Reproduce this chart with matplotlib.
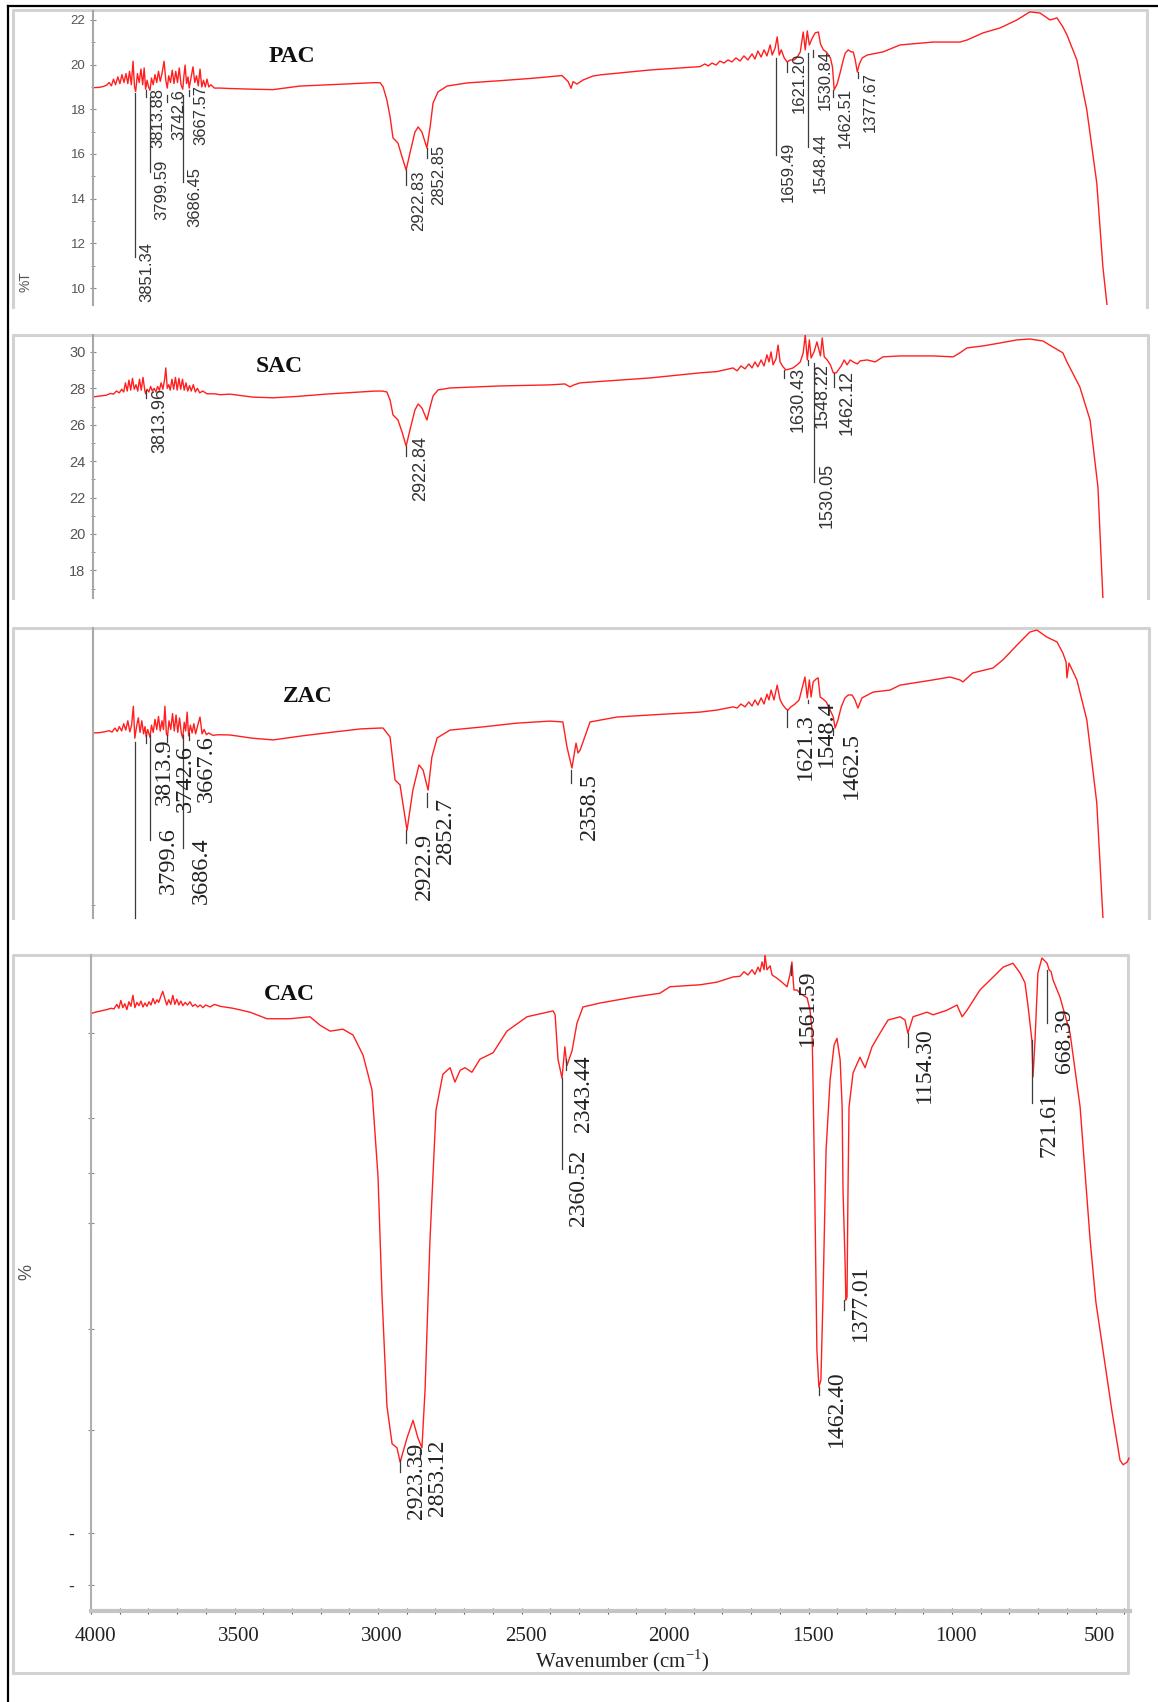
import matplotlib
matplotlib.use('Agg')
import matplotlib.pyplot as plt
import numpy as np
from matplotlib.transforms import ScaledTranslation

W, H = 1158, 1702
SERIF = ['Liberation Serif', 'DejaVu Serif']
SANS = ['Liberation Sans', 'DejaVu Sans']
RED = '#ff1f1f'
plt.rcParams['font.family'] = SANS

# ---------------- PAC spectrum (wavenumber, %T) ----------------
PAC_WN = [3995, 3975, 3960, 3948, 3940, 3932, 3925, 3918, 3910, 3903, 3896, 3889, 3882, 3876, 3870,
          3864, 3858, 3853, 3849, 3843, 3837, 3831, 3825, 3820, 3815, 3810, 3805, 3800, 3795, 3789,
          3783, 3777, 3771, 3765, 3759, 3752, 3746, 3741, 3736, 3730, 3724, 3718, 3712, 3706, 3700,
          3694, 3688, 3684, 3680, 3675, 3670, 3666, 3660, 3653, 3647, 3641, 3635, 3629, 3623, 3617,
          3611, 3605, 3599, 3592, 3580, 3560, 3526, 3450, 3380, 3287, 3150, 3040, 3013, 3003, 2990,
          2979, 2969, 2952, 2938, 2924, 2911, 2894, 2883, 2870, 2853, 2842, 2832, 2815, 2784, 2716,
          2603, 2490, 2391, 2370, 2360, 2353, 2340, 2319, 2285, 2261, 2090, 1919, 1902, 1891, 1878,
          1864, 1851, 1837, 1823, 1810, 1796, 1782, 1769, 1755, 1741, 1731, 1721, 1710, 1700, 1690,
          1679, 1672, 1662, 1655, 1648, 1641, 1631, 1621, 1610, 1597, 1586, 1576, 1566, 1559, 1552,
          1545, 1535, 1525, 1514, 1507, 1497, 1487, 1473, 1466, 1460, 1450, 1439, 1429, 1422, 1412,
          1402, 1395, 1388, 1381, 1374, 1364, 1347, 1293, 1235, 1122, 1030, 1006, 951, 893, 835,
          791, 756, 722, 698, 678, 664, 630, 596, 562, 541, 527, 517]
PAC_T = [18.97, 18.98, 19.02, 19.08, 19.2, 19.05, 19.35, 19.1, 19.45, 19.15, 19.55, 19.2, 19.6, 19.15, 19.7,
         19.1, 20.15, 19.0, 18.8, 19.6, 19.2, 19.8, 19.1, 19.85, 18.9, 19.3, 19.0, 18.85, 19.4, 19.1,
         19.55, 19.2, 19.7, 19.25, 19.6, 20.15, 19.3, 18.95, 19.5, 19.2, 19.75, 19.15, 19.7, 19.2, 19.85,
         19.1, 18.9, 19.5, 19.98, 19.15, 19.45, 18.95, 19.4, 19.9, 19.2, 19.5, 19.05, 19.8, 19.0, 19.3,
         19.0, 19.35, 19.0, 19.1, 18.95, 18.95, 18.93, 18.9, 18.88, 19.04, 19.12, 19.19, 19.19, 19.01, 18.42,
         17.67, 16.72, 16.49, 15.87, 15.28, 16.04, 16.98, 17.21, 16.98, 16.27, 17.21, 18.28, 18.78, 19.04, 19.18,
         19.28, 19.39, 19.51, 19.24, 18.94, 19.24, 19.13, 19.31, 19.49, 19.54, 19.76, 19.91, 20.03, 19.94, 20.07,
         19.98, 20.16, 20.07, 20.21, 20.12, 20.30, 20.16, 20.39, 20.21, 20.48, 20.25, 20.61, 20.34, 20.66, 20.39,
         20.88, 20.43, 20.75, 21.24, 20.43, 20.66, 20.30, 20.12, 20.21, 20.21, 20.34, 20.57, 21.46, 20.66, 21.51,
         20.88, 21.19, 21.42, 21.46, 20.93, 20.66, 20.57, 20.30, 19.90, 18.87, 19.13, 19.67, 20.21, 20.52, 20.66,
         20.57, 20.57, 20.21, 19.67, 20.03, 20.30, 20.43, 20.57, 20.88, 21.01, 21.01, 21.10, 21.42, 21.64, 22.00,
         22.36, 22.31, 22.00, 22.09, 21.69, 21.33, 20.21, 17.97, 14.70, 10.94, 9.24, 8.12]

# ---------------- SAC spectrum ----------------
SAC_WN = [3995, 3970, 3950, 3935, 3925, 3915, 3905, 3897, 3890, 3884, 3878, 3872, 3866, 3860, 3854,
          3848, 3842, 3836, 3830, 3824, 3818, 3815, 3810, 3804, 3798, 3792, 3786, 3780, 3774, 3768,
          3762, 3756, 3750, 3746, 3741, 3736, 3731, 3725, 3719, 3713, 3707, 3701, 3695, 3689, 3683,
          3677, 3671, 3665, 3659, 3652, 3645, 3638, 3630, 3620, 3605, 3580, 3560, 3526, 3450, 3380,
          3300, 3200, 3100, 3030, 3005, 2990, 2979, 2969, 2952, 2938, 2924, 2911, 2894, 2883, 2870,
          2853, 2842, 2832, 2815, 2774, 2603, 2432, 2381, 2364, 2350, 2329, 2090, 1919, 1861, 1806,
          1792, 1779, 1765, 1752, 1741, 1731, 1721, 1710, 1700, 1690, 1683, 1676, 1669, 1659, 1652,
          1645, 1635, 1625, 1611, 1601, 1587, 1576, 1566, 1559, 1552, 1545, 1539, 1529, 1519, 1507,
          1501, 1494, 1484, 1473, 1463, 1453, 1446, 1436, 1426, 1416, 1405, 1395, 1381, 1371, 1347,
          1320, 1293, 1235, 1122, 1053, 1030, 1006, 951, 893, 835, 791, 746, 712, 678, 664,
          620, 585, 558, 541, 534]
SAC_T = [27.53, 27.58, 27.62, 27.72, 27.68, 27.85, 27.75, 27.95, 27.8, 28.3, 27.85, 28.45, 27.9, 28.55, 27.95,
         28.2, 27.85, 28.5, 27.9, 28.6, 27.9, 27.7, 27.95, 27.8, 28.1, 27.85, 28.0, 27.8, 28.1, 27.9,
         28.3, 27.95, 28.5, 29.12, 28.0, 28.2, 27.9, 28.5, 27.95, 28.6, 27.9, 28.55, 27.95, 28.5, 27.9,
         28.3, 27.85, 28.15, 27.85, 28.2, 27.8, 28.0, 27.75, 27.85, 27.7, 27.7, 27.65, 27.68, 27.52, 27.48,
         27.55, 27.68, 27.78, 27.85, 27.85, 27.80, 27.36, 26.54, 26.26, 25.60, 24.83, 25.71, 26.81, 27.14, 26.92,
         26.26, 26.98, 27.58, 27.91, 28.02, 28.13, 28.19, 28.24, 28.08, 28.19, 28.30, 28.57, 28.85, 28.92, 29.12,
         28.96, 29.23, 29.07, 29.34, 29.12, 29.45, 29.18, 29.56, 29.23, 29.84, 29.45, 30.00, 29.29, 29.62, 30.38,
         29.45, 29.18, 29.01, 29.07, 29.12, 29.29, 29.45, 29.95, 30.93, 29.56, 30.66, 29.67, 30.00, 30.55, 29.78,
         30.77, 29.73, 29.56, 29.29, 28.85, 28.85, 29.01, 29.23, 29.56, 29.29, 29.56, 29.45, 29.34, 29.51, 29.56,
         29.45, 29.73, 29.78, 29.78, 29.73, 29.95, 30.22, 30.33, 30.49, 30.66, 30.71, 30.60, 30.27, 29.95, 29.45,
         28.08, 26.26, 22.58, 16.48, 14.17]

# ---------------- ZAC spectrum (arbitrary %T scale 0-100) ----------------
ZAC_WN = [3995, 3975, 3955, 3940, 3930, 3920, 3912, 3905, 3897, 3890, 3883, 3876, 3869, 3863, 3857,
          3852, 3846, 3840, 3834, 3828, 3822, 3817, 3813, 3808, 3800, 3795, 3789, 3783, 3777, 3771,
          3765, 3759, 3754, 3749, 3744, 3740, 3735, 3729, 3723, 3717, 3711, 3705, 3699, 3693, 3688,
          3683, 3678, 3673, 3668, 3662, 3656, 3650, 3644, 3638, 3629, 3622, 3615, 3607, 3600, 3585,
          3565, 3526, 3450, 3379, 3280, 3174, 3080, 3013, 3003, 2979, 2962, 2945, 2921, 2901, 2880,
          2866, 2849, 2836, 2818, 2774, 2661, 2545, 2432, 2388, 2374, 2357, 2343, 2336, 2329, 2295,
          2203, 2090, 1919, 1861, 1806, 1792, 1779, 1765, 1752, 1741, 1731, 1721, 1710, 1700, 1690,
          1683, 1676, 1666, 1655, 1645, 1635, 1625, 1618, 1608, 1594, 1580, 1567, 1560, 1552, 1545,
          1539, 1532, 1522, 1515, 1508, 1498, 1487, 1474, 1463, 1457, 1447, 1436, 1423, 1412, 1399,
          1389, 1379, 1365, 1327, 1269, 1235, 1122, 1064, 1030, 1020, 986, 917, 883, 835, 791,
          767, 733, 698, 678, 667, 664, 657, 630, 596, 562, 541, 531]
ZAC_T = [63.8, 63.9, 64.2, 64.6, 64.1, 65.5, 64.3, 66.0, 64.5, 67.0, 64.8, 68.0, 64.2, 66.5, 73.0,
         62.0, 66.0, 69.0, 64.0, 68.0, 63.5, 66.0, 62.5, 65.0, 62.3, 66.5, 64.0, 68.5, 65.0, 69.5,
         64.5, 68.0, 65.0, 73.0, 63.5, 62.8, 68.0, 65.0, 70.5, 64.5, 70.0, 64.0, 69.0, 63.8, 62.0,
         67.5, 64.5, 71.0, 62.8, 66.5, 63.8, 67.0, 63.5, 66.0, 69.3, 63.5, 65.0, 63.2, 63.8, 63.0,
         63.2, 63.1, 62.0, 61.4, 62.8, 64.1, 65.2, 65.5, 65.5, 62.4, 47.6, 45.9, 30.3, 44.1, 52.8,
         51.0, 44.1, 55.5, 62.1, 64.8, 65.9, 67.2, 67.9, 67.6, 59.0, 51.7, 60.3, 56.9, 57.9, 67.6,
         69.3, 70.0, 71.0, 71.7, 72.8, 72.4, 73.8, 72.8, 74.5, 73.1, 75.2, 73.4, 75.9, 73.8, 77.2,
         75.2, 78.6, 75.2, 80.3, 75.2, 73.4, 72.1, 71.7, 72.8, 73.8, 75.2, 80.3, 83.1, 75.9, 82.1,
         76.2, 81.4, 82.4, 82.8, 76.2, 75.5, 74.5, 71.7, 69.3, 65.5, 68.3, 72.8, 75.9, 76.9, 76.9,
         75.2, 72.4, 75.9, 77.9, 78.6, 80.3, 82.1, 83.1, 82.1, 81.4, 84.5, 86.2, 89.0, 94.1, 98.6,
         99.3, 96.9, 95.2, 91.4, 88.3, 82.8, 87.9, 82.1, 68.3, 39.7, 0.3, -11.0]

# ---------------- CAC spectrum (arbitrary %T scale) ----------------
CAC_WN = [4000, 3985, 3965, 3945, 3930, 3920, 3910, 3903, 3896, 3889, 3882, 3875, 3868, 3861, 3854,
          3847, 3840, 3833, 3826, 3819, 3812, 3805, 3798, 3791, 3784, 3777, 3770, 3764, 3757, 3750,
          3743, 3736, 3729, 3722, 3715, 3708, 3701, 3694, 3687, 3680, 3672, 3664, 3655, 3646, 3637,
          3628, 3620, 3610, 3600, 3585, 3570, 3550, 3505, 3446, 3387, 3307, 3237, 3202, 3167, 3122,
          3087, 3052, 3021, 3000, 2986, 2969, 2951, 2934, 2923, 2899, 2878, 2861, 2847, 2836, 2819,
          2798, 2774, 2749, 2732, 2714, 2697, 2673, 2645, 2599, 2551, 2481, 2390, 2383, 2373, 2359,
          2349, 2342, 2324, 2307, 2286, 2227, 2112, 2018, 1983, 1878, 1819, 1763, 1739, 1725, 1711,
          1697, 1687, 1676, 1669, 1662, 1655, 1652, 1645, 1634, 1627, 1610, 1593, 1575, 1565, 1558,
          1551, 1540, 1530, 1519, 1505, 1495, 1488, 1485, 1478, 1471, 1464, 1457, 1450, 1439, 1425,
          1411, 1401, 1390, 1383, 1380, 1373, 1370, 1366, 1363, 1359, 1345, 1321, 1303, 1279, 1251,
          1223, 1181, 1164, 1154, 1136, 1087, 1066, 1018, 983, 965, 948, 903, 857, 822, 788,
          763, 746, 735, 722, 718, 711, 701, 687, 669, 662, 655, 648, 624, 589, 554,
          519, 499, 443, 415, 404, 390, 384]
CAC_T = [91.5, 91.7, 91.9, 92.1, 92.3, 92.2, 92.9, 92.3, 93.5, 92.4, 93.0, 92.1, 93.3, 92.6, 94.3,
         92.4, 93.2, 92.7, 93.4, 92.5, 93.1, 92.6, 93.3, 92.8, 93.8, 93.0, 93.6, 93.2, 94.1, 94.9,
         93.8, 92.8, 93.6, 92.9, 94.3, 92.9, 93.7, 92.8, 93.4, 92.7, 93.2, 92.8, 93.3, 92.6, 92.9,
         92.5, 92.8, 92.4, 92.8, 92.5, 92.9, 92.6, 92.3, 91.7, 90.7, 90.7, 91.0, 89.7, 88.8, 89.1,
         88.2, 85.1, 79.8, 66.5, 48.2, 31.4, 25.6, 25.0, 22.8, 26.5, 29.2, 26.5, 25.0, 34.0, 56.8,
         76.7, 82.2, 83.2, 81.0, 82.8, 83.2, 82.5, 84.5, 85.5, 88.8, 91.0, 91.9, 91.3, 84.5, 81.6,
         86.4, 83.5, 85.8, 90.0, 92.5, 93.1, 94.0, 94.6, 95.6, 95.9, 96.3, 97.1, 97.2, 97.9, 97.4,
         98.2, 97.5, 98.6, 97.9, 99.4, 98.2, 100.5, 98.2, 98.8, 97.4, 96.9, 96.3, 95.6, 97.4, 99.4,
         95.1, 95.1, 94.6, 94.3, 93.9, 92.0, 89.0, 82.4, 62.9, 40.0, 34.3, 35.4, 47.6, 70.6, 81.3,
         86.7, 87.7, 84.4, 77.2, 64.5, 53.8, 47.6, 48.1, 62.9, 77.2, 82.4, 84.8, 83.2, 86.4, 88.5,
         90.5, 91.0, 90.5, 88.5, 91.0, 91.7, 91.3, 92.0, 92.8, 91.0, 92.0, 95.1, 97.1, 98.6, 99.2,
         97.7, 96.2, 92.5, 87.4, 81.8, 87.4, 97.7, 100.0, 99.2, 98.2, 97.9, 96.6, 94.0, 88.5, 77.2,
         56.8, 47.3, 30.6, 23.1, 22.4, 22.8, 23.4]

# ---------------- peak labels: wavenumber, line top, line bottom, text top ----------------
PAC_LBL = ["3851.34", "3813.88", "3799.59", "3742.6", "3686.45", "3667.57", "2922.83", "2852.85",
           "1659.49", "1621.20", "1548.44", "1530.84", "1462.51", "1377.67"]
PAC_LWN = [3851.34, 3813.88, 3799.59, 3742.6, 3686.45, 3667.57, 2922.83, 2852.85,
           1659.49, 1621.20, 1548.44, 1530.84, 1462.51, 1377.67]
PAC_LTOP = [18.73, 18.87, 18.55, 18.64, 18.64, 18.87, 15.28, 16.27, 20.30, 20.12, 20.52, 20.66, 18.87, 19.67]
PAC_LBOT = [11.39, 18.55, 15.19, 18.33, 14.75, 18.60, 14.61, 15.82, 15.95, 19.67, 16.31, 20.34, 18.55, 19.40]
PAC_TTOP = [12.06, 18.96, 15.73, 18.91, 15.42, 19.09, 15.28, 16.40, 16.54, 20.52, 16.94, 20.66, 18.96, 19.67]

SAC_LBL = ["3813.96", "2922.84", "1630.43", "1548.22", "1530.05", "1462.12"]
SAC_LWN = [3813.96, 2922.84, 1630.43, 1548.22, 1530.05, 1462.12]
SAC_LTOP = [27.91, 24.83, 29.01, 29.56, 29.40, 28.85]
SAC_LBOT = [27.47, 24.29, 28.57, 29.29, 22.86, 28.08]
SAC_TTOP = [28.02, 25.38, 29.18, 29.40, 23.90, 29.01]

ZAC_LBL = ["", "3813.9", "3799.6", "3742.6", "3686.4", "3667.6", "2922.9", "2852.7", "2358.5",
           "1621.3", "1548.4", "1462.5"]
ZAC_LWN = [3851.3, 3813.9, 3799.6, 3742.6, 3686.4, 3667.6, 2922.9, 2852.7, 2358.5, 1621.3, 1548.4, 1462.5]
ZAC_LTOP = [60.7, 63.1, 63.1, 63.1, 63.1, 63.8, 30.3, 43.1, 51.0, 71.7, 75.2, 65.5]
ZAC_LBOT = [0.0, 60.3, 26.9, 60.7, 24.1, 61.4, 25.9, 38.3, 46.6, 65.9, 74.1, 63.1]
ZAC_TTOP = [0.0, 62.1, 31.4, 59.6, 27.9, 63.1, 29.3, 41.7, 50.0, 70.7, 75.2, 64.1]

CAC_LBL = ["2923.39", "2853.12", "2360.52", "2343.44", "1561.59", "1462.40", "1377.01", "1154.30",
           "721.61", "668.39"]
CAC_LWN = [2923.39, 2853.12, 2360.52, 2343.44, 1561.59, 1462.40, 1377.01, 1154.30, 721.61, 668.39]
CAC_LTOP = [23.1, 25.0, 81.6, 84.5, 98.9, 34.3, 47.6, 88.5, 87.4, 98.2]
CAC_LBOT = [21.3, 23.4, 67.7, 82.8, 97.4, 33.1, 46.1, 86.4, 77.8, 90.0]
CAC_TTOP = [25.7, 26.2, 70.6, 85.1, 98.2, 36.9, 53.1, 89.4, 79.5, 92.3]

# axis tick values
PAC_YT = [10, 12, 14, 16, 18, 20, 22]
SAC_YT = [18, 20, 22, 24, 26, 28, 30]
CAC_XT = [4000, 3500, 3000, 2500, 2000, 1500, 1000, 500]
CAC_YT = [88.5, 75.5, 67.1, 59.4, 43.2, 27.7, 11.9, 4.0]
CAC_YTL = ["", "", "", "", "", "", "-", "-"]

# ---------------- figure ----------------
fig = plt.figure(figsize=(W / 100, H / 100), dpi=100)
bg = fig.add_axes([0, 0, 1, 1])
bg.set_xlim(0, W)
bg.set_ylim(H, 0)
bg.axis('off')


def px_axes(x0, y0, x1, y1):
    a = fig.add_axes([x0 / W, 1 - y1 / H, (x1 - x0) / W, (y1 - y0) / H])
    a.patch.set_alpha(0)
    return a


# outer black frame (left & top)
bg.plot([8, 8], [6, H], color='black', lw=1.6)
bg.plot([8, W], [6, 6], color='black', lw=1.6)
# panel frames
GRAY = '#d2d2d2'
for (l, t, r, b) in [(13, 10, 1147, 307), (13, 335, 1148, 598), (13, 628, 1149, 918)]:
    bg.plot([l, l, r, r], [b, t, t, b], color=GRAY, lw=2.2)
bg.plot([13, 13, 1128, 1128, 13], [1673, 955, 955, 1673, 1673], color=GRAY, lw=2.2)


def style_upper(ax):
    for s in ['top', 'right', 'bottom']:
        ax.spines[s].set_visible(False)
    ax.spines['left'].set_color('#a8a8a8')
    ax.spines['left'].set_linewidth(1.5)
    ax.set_xticks([])


def draw_labels(ax, wn, top, bot, ttop, texts, dx, fs, fam, col):
    for w, a, b, t, s in zip(wn, top, bot, ttop, texts):
        ax.plot([w, w], [a, b], color='#3c3c3c', lw=0.9, clip_on=False, zorder=3)
        if s:
            ax.annotate(s, xy=(w, t), xytext=(dx, 0), textcoords='offset points',
                        rotation=90, ha='center', va='top', fontsize=fs, family=fam,
                        color=col, annotation_clip=False, zorder=4)


# PAC
axP = px_axes(93, 11, 1147, 305)
axP.plot(PAC_WN, PAC_T, color=RED, lw=1.0, zorder=2)
axP.set_xlim(3995, 4000 - 3.42 * (1147 - 91.5))
axP.set_ylim(9.24, 22.40)
style_upper(axP)
axP.set_yticks(PAC_YT)
axP.set_yticks([11, 13, 15, 17, 19, 21], minor=True)
axP.tick_params(axis='y', which='major', direction='inout', length=5, width=0.8, color='#8a8a8a',
                labelsize=9.5, labelcolor='#555555', pad=3)
axP.tick_params(axis='y', which='minor', direction='inout', length=3, width=0.7, color='#8a8a8a')
draw_labels(axP, PAC_LWN, PAC_LTOP, PAC_LBOT, PAC_TTOP, PAC_LBL, 8.6, 12, SANS, '#333333')

# SAC
axS = px_axes(93, 335, 1148, 598)
axS.plot(SAC_WN, SAC_T, color=RED, lw=1.0, zorder=2)
axS.set_xlim(3995, 4000 - 3.42 * (1148 - 91.5))
axS.set_ylim(16.48, 30.93)
style_upper(axS)
axS.set_yticks(SAC_YT)
axS.set_yticks([17, 19, 21, 23, 25, 27, 29], minor=True)
axS.tick_params(axis='y', which='major', direction='inout', length=5, width=0.8, color='#8a8a8a',
                labelsize=10.5, labelcolor='#555555', pad=3)
axS.tick_params(axis='y', which='minor', direction='inout', length=3, width=0.7, color='#8a8a8a')
draw_labels(axS, SAC_LWN, SAC_LTOP, SAC_LBOT, SAC_TTOP, SAC_LBL, 10, 13, SANS, '#333333')

# ZAC
axZ = px_axes(93, 628, 1149, 918)
axZ.plot(ZAC_WN, ZAC_T, color=RED, lw=1.0, zorder=2)
axZ.set_xlim(3995, 4000 - 3.42 * (1149 - 91.5))
axZ.set_ylim(0, 100)
style_upper(axZ)
axZ.set_yticks([4.5])
axZ.set_yticklabels([''])
axZ.tick_params(axis='y', direction='inout', length=3, width=0.7, color='#8a8a8a')
draw_labels(axZ, ZAC_LWN, ZAC_LTOP, ZAC_LBOT, ZAC_TTOP, ZAC_LBL, 13, 17.5, SERIF, '#222222')

# CAC
axC = px_axes(91, 955, 1130, 1611)
axC.plot(CAC_WN, CAC_T, color=RED, lw=1.0, zorder=2)
axC.set_xlim(4000, 4000 - 3.484 * (1130 - 91))
axC.set_ylim(0, 100.46)
for s in ['top', 'right']:
    axC.spines[s].set_visible(False)
axC.spines['left'].set_color('#b0b0b0')
axC.spines['left'].set_linewidth(1.5)
axC.spines['bottom'].set_color('#c4c4c4')
axC.spines['bottom'].set_linewidth(3)
axC.set_xticks(CAC_XT)
axC.set_xticks(np.arange(3900, 399, -100), minor=True)
axC.tick_params(axis='x', which='both', direction='inout', length=5, width=0.8, color='#555555',
                labelsize=15, pad=9)
for lbl in axC.get_xticklabels():
    lbl.set_fontfamily(SERIF)
    lbl.set_color('#222222')
    lbl.set_transform(lbl.get_transform() + ScaledTranslation(4 / 100, 0, fig.dpi_scale_trans))
axC.set_yticks(CAC_YT)
axC.set_yticklabels(CAC_YTL)
axC.tick_params(axis='y', direction='inout', length=4, width=0.8, color='#888888',
                labelsize=13, labelcolor='#333333', pad=10)
draw_labels(axC, CAC_LWN, CAC_LTOP, CAC_LBOT, CAC_TTOP, CAC_LBL, 12.2, 17, SERIF, '#222222')

# titles and axis texts
for name, x, y in [('PAC', 292, 56), ('SAC', 279, 366), ('ZAC', 308, 697), ('CAC', 289, 995)]:
    bg.text(x, y, name, ha='center', va='center', fontsize=17, fontweight='bold', family=SERIF,
            color='#111111')
bg.text(25, 282, '%T', rotation=90, ha='center', va='center', fontsize=10, color='#555555')
bg.text(27, 1272, '%', rotation=90, ha='center', va='center', fontsize=13, color='#555555')
bg.text(622, 1661, 'Wavenumber (cm$^{\\mathregular{-1}}$)', ha='center', va='center', fontsize=15,
        family=SERIF, color='#222222')

fig.savefig('out.png', dpi=100)
